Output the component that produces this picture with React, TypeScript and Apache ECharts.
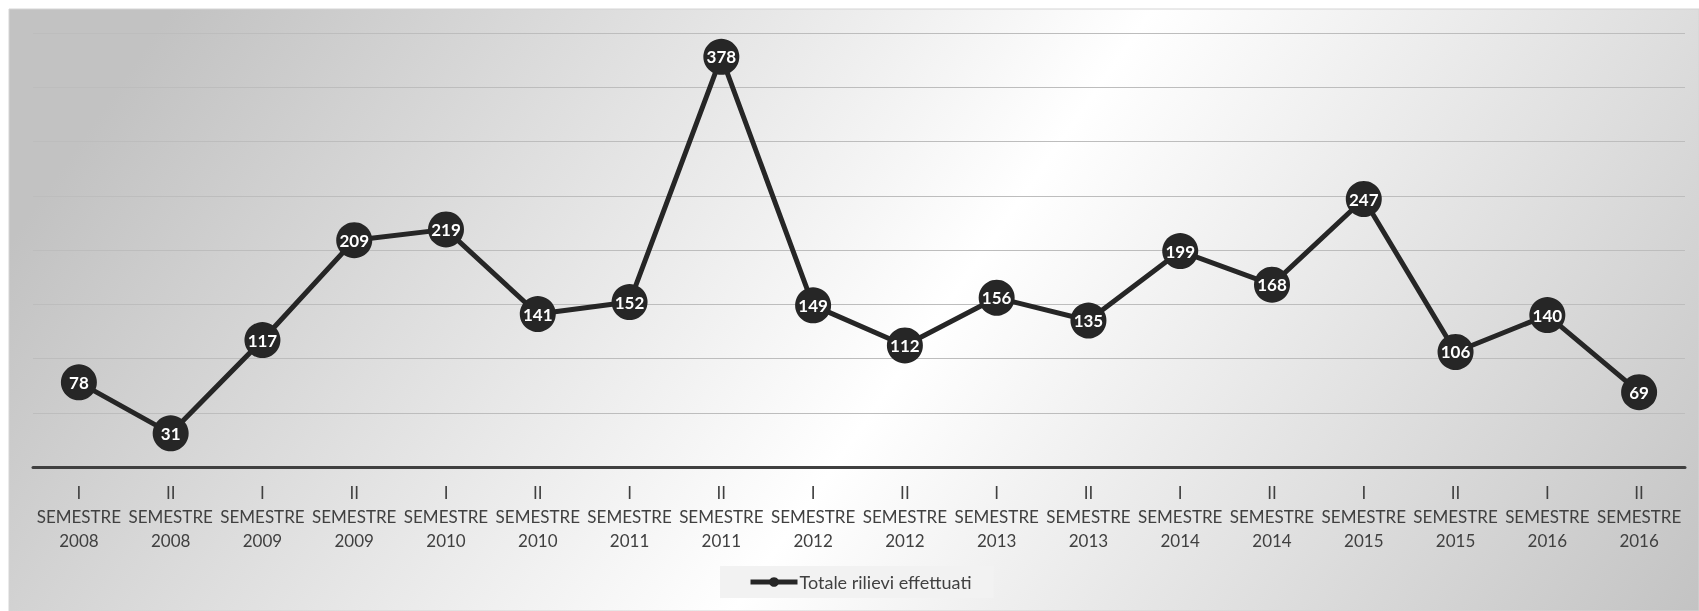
import React, { useEffect, useRef } from "react";
import * as echarts from "echarts";

const semesters = ["I", "II", "I", "II", "I", "II", "I", "II", "I", "II", "I", "II", "I", "II", "I", "II", "I", "II"];
const years = ["2008", "2008", "2009", "2009", "2010", "2010", "2011", "2011", "2012", "2012", "2013", "2013", "2014", "2014", "2015", "2015", "2016", "2016"];
const categories = semesters.map((s, i) => `${s}\nSEMESTRE\n${years[i]}`);
const totaleRilievi = [78, 31, 117, 209, 219, 141, 152, 378, 149, 112, 156, 135, 199, 168, 247, 106, 140, 69];
const seriesName = "Totale rilievi effettuati";

export default function App() {
  const ref = useRef<HTMLDivElement>(null);
  useEffect(() => {
    if (!ref.current) return;
    const chart = echarts.init(ref.current, undefined, { renderer: "svg" });
    chart.setOption({
      animation: false,
      graphic: [
        {
          type: "rect",
          z: -10,
          silent: true,
          shape: { x: 9, y: 9, width: 1690, height: 602 },
          style: {
            fill: new echarts.graphic.LinearGradient(290, -160, 1610, 760, [
              { offset: 0, color: "#c2c2c2" },
              { offset: 0.5, color: "#ffffff" },
              { offset: 1, color: "#c2c2c2" },
            ], true),
            stroke: "#d4d4d4",
            lineWidth: 1,
          },
        },
      ],
      grid: { left: 33, right: 14, top: 33, bottom: 144, containLabel: false },
      legend: {
        data: [seriesName],
        left: 720,
        top: 566,
        padding: [7, 22, 7, 28],
        backgroundColor: "#f2f2f2",
        itemWidth: 47,
        itemHeight: 12,
        itemGap: 2,
        lineStyle: { width: 5 },
        textStyle: { fontFamily: "Lato", fontSize: 18, color: "#404040", padding: [0, 0, 0, -3] },
      },
      xAxis: {
        type: "category",
        data: categories,
        boundaryGap: true,
        axisTick: { show: false },
        axisLine: { lineStyle: { color: "#404040", width: 3 } },
        axisLabel: {
          interval: 0,
          margin: 13,
          color: "#404040",
          fontFamily: "Lato",
          fontSize: 17,
          lineHeight: 24,
        },
      },
      yAxis: {
        type: "value",
        min: 0,
        max: 400,
        interval: 50,
        axisLabel: { show: false },
        axisLine: { show: false },
        axisTick: { show: false },
        splitLine: { lineStyle: { color: "#bdbdbd", width: 1 } },
      },
      series: [
        {
          name: seriesName,
          type: "line",
          data: totaleRilievi,
          symbol: "circle",
          symbolSize: 36,
          color: "#262626",
          lineStyle: { color: "#262626", width: 5 },
          itemStyle: { color: "#262626" },
          label: {
            show: true,
            position: "inside",
            color: "#ffffff",
            fontFamily: "Lato",
            fontWeight: "bold",
            fontSize: 17,
          },
        },
      ],
    });
    return () => chart.dispose();
  }, []);
  return (
    <div
      ref={ref}
      style={{ position: "fixed", left: 0, top: 0, width: 1699, height: 611 }}
    />
  );
}
